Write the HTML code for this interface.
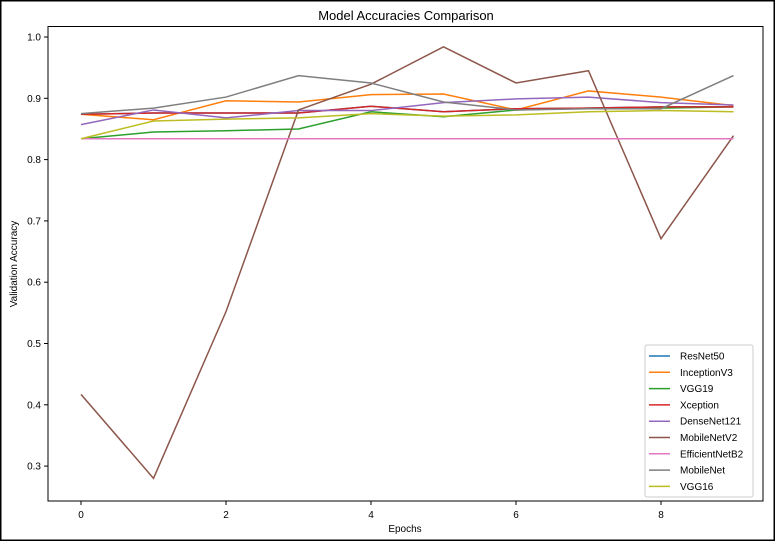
<!DOCTYPE html>
<html><head><meta charset="utf-8"><style>
html,body{margin:0;padding:0;background:#fff;}
svg{display:block;font-family:"Liberation Sans","DejaVu Sans",sans-serif;}
</style></head><body>
<svg id="chart" width="775" height="541" viewBox="0 0 775 541">
<rect x="0.5" y="0.5" width="774" height="540" fill="#fff" stroke="#000" stroke-width="2"/>
<text x="406" y="20" text-anchor="middle" font-size="13" fill="#000">Model Accuracies Comparison</text>
<text x="405" y="532" text-anchor="middle" font-size="10" fill="#000">Epochs</text>
<text transform="translate(17,264) rotate(-90)" text-anchor="middle" font-size="10" fill="#000">Validation Accuracy</text>
<g id="ticks"></g>
<g id="series"></g>
<rect x="48" y="26.5" width="715" height="474.5" fill="none" stroke="#000" stroke-width="1"/>
<g id="legend"></g>
</svg>
<script>
const epochs = [0,1,2,3,4,5,6,7,8,9];
const seriesNames = ["ResNet50","InceptionV3","VGG19","Xception","DenseNet121","MobileNetV2","EfficientNetB2","MobileNet","VGG16"];
const resnet50 = [0.874,0.876,0.876,0.876,0.887,0.878,0.883,0.884,0.886,0.886];
const inceptionV3 = [0.874,0.865,0.896,0.894,0.906,0.907,0.881,0.912,0.902,0.888];
const vgg19 = [0.834,0.845,0.847,0.850,0.878,0.870,0.881,0.884,0.884,0.886];
const xception = [0.874,0.876,0.876,0.876,0.887,0.878,0.883,0.884,0.886,0.886];
const denseNet121 = [0.857,0.881,0.868,0.880,0.880,0.893,0.899,0.902,0.893,0.889];
const mobileNetV2 = [0.417,0.280,0.552,0.881,0.923,0.984,0.925,0.945,0.671,0.839];
const efficientNetB2 = [0.834,0.834,0.834,0.834,0.834,0.834,0.834,0.834,0.834,0.834];
const mobileNet = [0.875,0.884,0.902,0.937,0.925,0.894,0.881,0.883,0.883,0.937];
const vgg16 = [0.834,0.863,0.866,0.868,0.875,0.871,0.873,0.878,0.880,0.878];
const xTicks = [0,2,4,6,8];
const yTicks = [0.3,0.4,0.5,0.6,0.7,0.8,0.9,1.0];
const yTickLabels = ["0.3","0.4","0.5","0.6","0.7","0.8","0.9","1.0"];

const colors = ["#1f77b4","#ff7f0e","#2ca02c","#d62728","#9467bd","#8c564b","#e377c2","#7f7f7f","#bcbd22"];
const allSeries = [resnet50,inceptionV3,vgg19,xception,denseNet121,mobileNetV2,efficientNetB2,mobileNet,vgg16];
const NS = "http://www.w3.org/2000/svg";
function xs(e){ return 81 + e*72.5; }
function ys(v){ return 37 + (1.0 - v)*613; }

const tg = document.getElementById('ticks');
xTicks.forEach(t=>{
  const l=document.createElementNS(NS,'line');
  l.setAttribute('x1',xs(t));l.setAttribute('x2',xs(t));l.setAttribute('y1',501);l.setAttribute('y2',505);l.setAttribute('stroke','#000');
  
  
  tg.appendChild(l);
  const tx=document.createElementNS(NS,'text');
  tx.setAttribute('x',xs(t));tx.setAttribute('y',518);tx.setAttribute('text-anchor','middle');tx.setAttribute('font-size','10');
  tx.textContent=String(t);
  
  
  tg.appendChild(tx);
});
yTicks.forEach((t,i)=>{
  const l=document.createElementNS(NS,'line');
  l.setAttribute('x1',44);l.setAttribute('x2',48);l.setAttribute('y1',ys(t));l.setAttribute('y2',ys(t));l.setAttribute('stroke','#000');
  
  
  tg.appendChild(l);
  const tx=document.createElementNS(NS,'text');
  tx.setAttribute('x',41);tx.setAttribute('y',ys(t)+3.5);tx.setAttribute('text-anchor','end');tx.setAttribute('font-size','10');
  tx.textContent=yTickLabels[i];
  
  
  tg.appendChild(tx);
});

const sg=document.getElementById('series');
allSeries.forEach((s,i)=>{
  const p=document.createElementNS(NS,'polyline');
  p.setAttribute('points',s.map((v,j)=>xs(epochs[j])+','+ys(v)).join(' '));
  p.setAttribute('fill','none');p.setAttribute('stroke',colors[i]);p.setAttribute('stroke-width','1.5');
  
  
  sg.appendChild(p);
});

const lg=document.getElementById('legend');
const box=document.createElementNS(NS,'rect');
box.setAttribute('x',645);box.setAttribute('y',345);box.setAttribute('width',108);box.setAttribute('height',152);box.setAttribute('rx',2);
box.setAttribute('fill','#fff');box.setAttribute('fill-opacity','0.9');box.setAttribute('stroke','#ccc');


lg.appendChild(box);
seriesNames.forEach((n,i)=>{
  const y=356+i*16.3;
  const l=document.createElementNS(NS,'line');
  l.setAttribute('x1',649);l.setAttribute('x2',670);l.setAttribute('y1',y);l.setAttribute('y2',y);
  l.setAttribute('stroke',colors[i]);l.setAttribute('stroke-width','1.5');
  
  
  lg.appendChild(l);
  const t=document.createElementNS(NS,'text');
  t.setAttribute('x',680);t.setAttribute('y',y+3.5);t.setAttribute('font-size','10');
  t.textContent=n;
  
  
  lg.appendChild(t);
});
</script>
</body></html>
